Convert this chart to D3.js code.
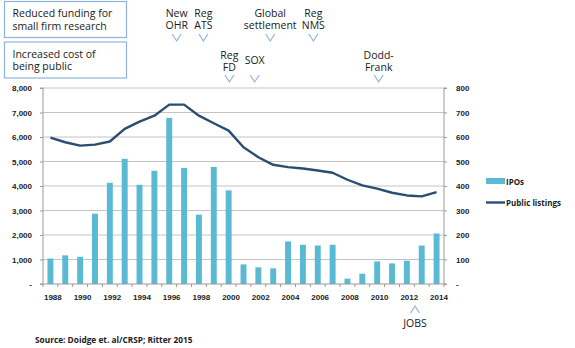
<!DOCTYPE html>
<html>
<head>
<meta charset="utf-8">
<script src="https://cdn.jsdelivr.net/npm/d3@7"></script>
<style>
  body { margin: 0; background: #fff; }
  svg { display: block; font-family: "Open Sans", "Noto Sans", sans-serif; }
  .axis text { font-size: 8px; font-weight: bold; fill: #222; }
  .note { font-size: 10.5px; fill: #1a1a1a; }
</style>
</head>
<body>
<div id="chart"></div>
<script>
// yearly counts
const years = [1988, 1989, 1990, 1991, 1992, 1993, 1994, 1995, 1996, 1997, 1998, 1999, 2000,
  2001, 2002, 2003, 2004, 2005, 2006, 2007, 2008, 2009, 2010, 2011, 2012, 2013, 2014];
const ipos = [104, 117, 111, 287, 413, 511, 405, 462, 678, 474, 283, 478, 382,
  80, 68, 64, 174, 160, 157, 160, 22, 42, 92, 84, 95, 157, 206];
const listings = [5975, 5785, 5650, 5690, 5815, 6330, 6630, 6870, 7320, 7320, 6870, 6560, 6260,
  5580, 5175, 4865, 4770, 4715, 4635, 4540, 4255, 4025, 3890, 3725, 3615, 3575, 3750];
const yearLabels = [1988, 1990, 1992, 1994, 1996, 1998, 2000, 2002, 2004, 2006, 2008, 2010, 2012, 2014];
const leftTicks = [0, 1000, 2000, 3000, 4000, 5000, 6000, 7000, 8000];
const rightTicks = [0, 100, 200, 300, 400, 500, 600, 700, 800];

// regulatory events, placed by (fractional) year
const eventsTop = [
  {lines: ['New', 'OHR'], year: 1996.5},
  {lines: ['Reg', 'ATS'], year: 1998.3},
  {lines: ['Global', 'settlement'], year: 2002.8},
  {lines: ['Reg', 'NMS'], year: 2005.7}
];
const eventsMid = [
  {lines: ['Reg', 'FD'], year: 2000.05},
  {lines: ['SOX'], year: 2001.75},
  {lines: ['Dodd-', 'Frank'], year: 2010.1}
];
const boxes = [['Reduced funding for', 'small firm research'], ['Increased cost of', 'being public']];

const W = 575, H = 348;
const margin = {top: 88, bottom: 64, left: 43, right: 131};
const iw = W - margin.left - margin.right, ih = H - margin.top - margin.bottom;

const svg = d3.select('#chart').append('svg').attr('width', W).attr('height', H);
const g = svg.append('g').attr('transform', `translate(${margin.left},${margin.top})`);

const x = d3.scaleBand(years, [0, iw]).paddingInner(0.6).paddingOuter(0.3);
const yL = d3.scaleLinear([0, 8000], [ih, 0]);
const yR = d3.scaleLinear([0, 800], [ih, 0]);
const cx = d => x(d) + x.bandwidth() / 2;
// continuous year position for annotations
const xYear = d3.scaleLinear([years[0], years[years.length - 1]], [cx(years[0]), cx(years[years.length - 1])]);

// gridlines
g.append('g').selectAll('line').data(leftTicks.slice(1)).join('line')
  .attr('x1', 0).attr('x2', iw)
  .attr('y1', d => yL(d)).attr('y2', d => yL(d))
  .attr('stroke', '#c4c4c4').attr('stroke-width', 1);

// bars (IPOs, right axis)
g.append('g').selectAll('rect').data(years).join('rect')
  .attr('x', d => x(d)).attr('width', x.bandwidth())
  .attr('y', (d, i) => yR(ipos[i]))
  .attr('height', (d, i) => yR(0) - yR(ipos[i]))
  .attr('fill', '#5bbad3');

// line (public listings, left axis)
g.append('path').datum(years)
  .attr('fill', 'none').attr('stroke', '#2a4d72').attr('stroke-width', 2.4)
  .attr('stroke-linejoin', 'round')
  .attr('d', d3.line().x(d => cx(d)).y((d, i) => yL(listings[i])));

// axes
const fmtL = d => d === 0 ? '-' : d3.format(',')(d);
const fmtR = d => d === 0 ? '-' : d;

const axL = g.append('g').attr('class', 'axis')
  .call(d3.axisLeft(yL).tickValues(leftTicks).tickFormat(fmtL).tickSize(3).tickPadding(8));
const axR = g.append('g').attr('class', 'axis').attr('transform', `translate(${iw},0)`)
  .call(d3.axisRight(yR).tickValues(rightTicks).tickFormat(fmtR).tickSize(3).tickPadding(9));
const axB = g.append('g').attr('class', 'axis').attr('transform', `translate(0,${ih})`)
  .call(d3.axisBottom(x).tickValues(yearLabels).tickSize(0).tickPadding(10));
axB.selectAll('text').attr('dx', '0.3em');

// minor ticks between categories on the bottom axis
axB.append('g').selectAll('line').data(d3.range(years.length + 1)).join('line')
  .attr('x1', i => i * x.step()).attr('x2', i => i * x.step())
  .attr('y1', 0).attr('y2', 3).attr('stroke', '#999');

[axL, axR, axB].forEach(a => {
  a.select('.domain').attr('stroke', '#999');
  a.selectAll('.tick line').attr('stroke', '#999');
});
axL.select('.domain').attr('d', `M-3,0H0V${ih}H-3`);
axR.select('.domain').attr('d', `M3,0H0V${ih}H3`);
axB.select('.domain').attr('d', `M0,0H${iw}`);

// legend
const lg = svg.append('g').attr('transform', 'translate(486,0)');
lg.append('rect').attr('x', 0).attr('y', 178).attr('width', 19).attr('height', 6).attr('fill', '#5bbad3');
lg.append('text').attr('x', 20).attr('y', 185).text('IPOs')
  .style('font-size', '8px').style('font-weight', 'bold').attr('fill', '#222');
lg.append('line').attr('x1', 0).attr('x2', 19).attr('y1', 202.5).attr('y2', 202.5)
  .attr('stroke', '#2a4d72').attr('stroke-width', 2.4);
lg.append('text').attr('x', 20).attr('y', 206).text('Public listings')
  .style('font-size', '8px').style('font-weight', 'bold').attr('fill', '#222');

// boxes on the upper left
boxes.forEach((lines, i) => {
  const by = 1 + i * 40.5;
  svg.append('rect').attr('x', 4.5).attr('y', by + 0.5).attr('width', 122).attr('height', 36)
    .attr('fill', '#fff').attr('stroke', '#8fb2dc').attr('stroke-width', 1.2);
  lines.forEach((t, j) => svg.append('text').attr('class', 'note')
    .attr('x', 12.5).attr('y', by + 16 + j * 12.5).text(t));
});

// event chevrons
function chevron(px, py, up) {
  const d = up ? `M${px - 4.5},${py + 7}L${px},${py}L${px + 4.5},${py + 7}`
               : `M${px - 4.5},${py}L${px},${py + 7}L${px + 4.5},${py}`;
  svg.append('path').attr('d', d).attr('fill', 'none')
    .attr('stroke', '#8db4e2').attr('stroke-width', 1.2);
}
function eventLabel(ev, lastBaseline, chevY) {
  const px = margin.left + xYear(ev.year);
  ev.lines.forEach((t, j) => svg.append('text').attr('class', 'note')
    .attr('x', px).attr('y', lastBaseline - (ev.lines.length - 1 - j) * 12.5)
    .attr('text-anchor', 'middle').text(t));
  chevron(px, chevY, false);
}
eventsTop.forEach(ev => eventLabel(ev, 29, 34));
eventsMid.forEach(ev => eventLabel(ev, ev.lines.length === 1 ? 63.5 : 71, 75));

// JOBS act, below the axis
const jx = margin.left + xYear(2012.55);
chevron(jx, 306, true);
svg.append('text').attr('class', 'note').attr('x', jx).attr('y', 327)
  .attr('text-anchor', 'middle').text('JOBS');

// source line
svg.append('text').attr('x', 35).attr('y', 343).text('Source: Doidge et. al/CRSP; Ritter 2015')
  .style('font-size', '8.3px').style('font-weight', 'bold').attr('fill', '#222');
</script>
</body>
</html>
